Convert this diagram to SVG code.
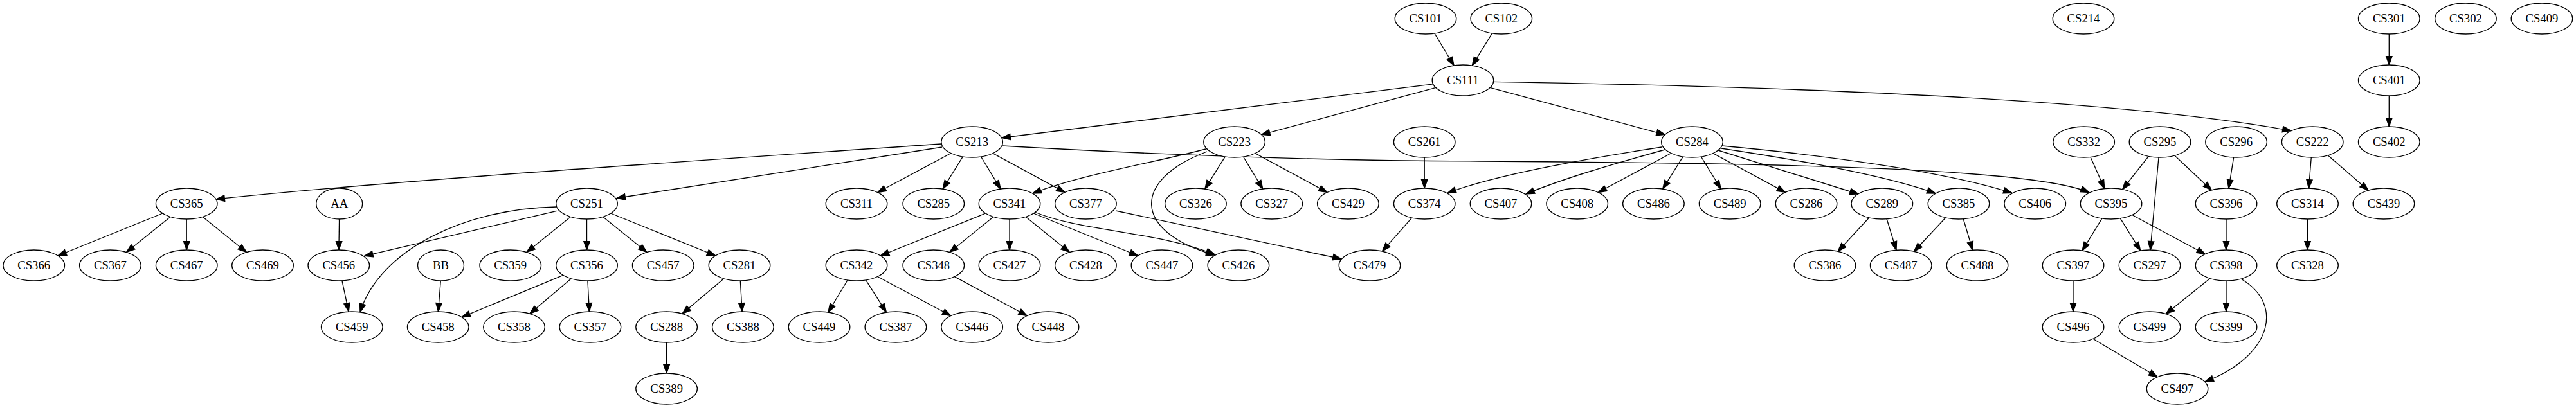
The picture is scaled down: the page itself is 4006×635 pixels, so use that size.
<svg xmlns="http://www.w3.org/2000/svg" width="4006" height="635" viewBox="0 0 4006 635">
<defs>
<marker id="arr" markerUnits="userSpaceOnUse" markerWidth="16" markerHeight="12" refX="13.3" refY="4.67" orient="auto" overflow="visible">
<path d="M0,0 L13.3,4.67 L0,9.33 Z" fill="#000" stroke="#000" stroke-width="1.33"/>
</marker>
<style>
.n ellipse{fill:#fff;stroke:#000;stroke-width:1.33}
.n text{font-family:"Liberation Serif","Times New Roman",serif;font-size:18.67px;text-anchor:middle;fill:#000}
#edges path{fill:none;stroke:#000;stroke-width:1.33;marker-end:url(#arr)}
</style>
</defs>
<rect width="4006" height="635" fill="#fff"/>
<g id="edges">
<path d="M2230.9,52 L2261.1,102"/>
<path d="M2320.5,51.9 L2289.3,102.1"/>
<path d="M2228.6,130.8 L1558,214.5"/>
<path d="M2232.9,136.4 L1961.7,209.6"/>
<path d="M2317.2,136.4 L2589.3,209.6"/>
<path d="M2322.7,127.3 C2800,135 3300,155 3563,203.5"/>
<path d="M1464,224 C1000,256 600,282 336,310"/>
<path d="M1465,229 L959,308.5"/>
<path d="M1478.9,238.5 L1364.7,299.5"/>
<path d="M1497.3,243.9 L1466.1,294.1"/>
<path d="M1525.6,244 L1556,294"/>
<path d="M1544,238.6 L1656,299.4"/>
<path d="M1559,227 C1800,241 2050,250 2300,251 C2700,254 3150,258 3249,299.5"/>
<path d="M1875,232 C1800,252 1680,272 1606,301"/>
<path d="M1877,236 C1760,280 1760,360 1889,397"/>
<path d="M1905.2,243.9 L1873.8,294.1"/>
<path d="M1933.5,244 L1963.8,294"/>
<path d="M1952,238.6 L2064,299.4"/>
<path d="M253,332 L89.9,398"/>
<path d="M265,337.4 L196.6,392.6"/>
<path d="M290.2,341 L290.2,389"/>
<path d="M315.3,337.4 L383.4,392.6"/>
<path d="M527.6,341 L526.9,389"/>
<path d="M865.7,328.3 L566.7,398.3"/>
<path d="M865,322 C720,325 590,390 560,486"/>
<path d="M887.3,337.4 L819,392.6"/>
<path d="M912.5,341 L912.5,389"/>
<path d="M937.7,337.4 L1006,392.6"/>
<path d="M949.7,332 L1112.8,398"/>
<path d="M531.9,436.9 L542.2,485.1"/>
<path d="M685.3,437 L681.5,485"/>
<path d="M875.7,428.3 L718.1,493.7"/>
<path d="M888.2,433.7 L823.8,488.3"/>
<path d="M913.9,437 L916.5,485"/>
<path d="M1125.6,433.7 L1061,488.3"/>
<path d="M1151.3,437 L1154.1,485"/>
<path d="M1036.6,533 L1036.6,581"/>
<path d="M1532.7,332 L1369.3,398"/>
<path d="M1544.9,337.4 L1476.9,392.6"/>
<path d="M1570,341 L1570,389"/>
<path d="M1595.2,337.4 L1663.2,392.6"/>
<path d="M1607.2,332 L1769.8,398"/>
<path d="M1609,330 C1680,360 1800,360 1889,396"/>
<path d="M1318.1,436 L1287.9,486"/>
<path d="M1346.5,435.9 L1378.4,486.1"/>
<path d="M1364.7,430.5 L1478.9,491.5"/>
<path d="M1484.4,430.6 L1597.4,491.5"/>
<path d="M1735,328 L2086,403"/>
<path d="M2215.2,245 L2215.2,293"/>
<path d="M2195.7,338.9 L2149.5,391.1"/>
<path d="M2584,229 C2480,245 2330,270 2251,300.5"/>
<path d="M2589,233 C2510,255 2430,278 2373,302"/>
<path d="M2598.9,238.5 L2485.3,299.5"/>
<path d="M2617.2,243.9 L2585.7,294.1"/>
<path d="M2645.5,244 L2676.2,294"/>
<path d="M2664,238.6 L2776.5,299.4"/>
<path d="M2672,234 L2890,302"/>
<path d="M2677,231 C2790,248 2930,272 3010,301"/>
<path d="M2678,227 C2820,240 3020,265 3129,300.5"/>
<path d="M2906.7,338.8 L2858.1,391.2"/>
<path d="M2934.1,340.7 L2949,389.3"/>
<path d="M3025.7,338.8 L2976.6,391.2"/>
<path d="M3053.2,340.7 L3067.8,389.3"/>
<path d="M3251,244.4 L3272.7,293.6"/>
<path d="M3341.3,243.3 L3300.7,294.7"/>
<path d="M3357,245 L3344,389"/>
<path d="M3381.7,242.1 L3439.3,295.9"/>
<path d="M3473.7,244.9 L3465.9,293.1"/>
<path d="M3594.3,245 L3590.4,293"/>
<path d="M3620.2,241.8 L3683,296.2"/>
<path d="M3715.3,53 L3715.3,101"/>
<path d="M3715.3,149 L3715.3,197"/>
<path d="M3268.9,339.9 L3238.1,390.1"/>
<path d="M3297.3,339.9 L3328.7,390.1"/>
<path d="M3315.7,334.5 L3429.4,395.5"/>
<path d="M3462,341 L3462,389"/>
<path d="M3588.5,341 L3588.5,389"/>
<path d="M3224,437 L3224,485"/>
<path d="M3254.9,527.3 L3355.1,586.7"/>
<path d="M3436.7,433.4 L3368.3,488.6"/>
<path d="M3462,437 L3462,485"/>
<path d="M3485,434 C3555,475 3530,556 3429,594"/>
</g>
<g id="CS101" class="n"><ellipse cx="2217" cy="29" rx="47.8" ry="24"/><text x="2217" y="34.6">CS101</text></g>
<g id="CS102" class="n"><ellipse cx="2334.8" cy="29" rx="47.8" ry="24"/><text x="2334.8" y="34.6">CS102</text></g>
<g id="CS214" class="n"><ellipse cx="3240" cy="29" rx="47.8" ry="24"/><text x="3240" y="34.6">CS214</text></g>
<g id="CS301" class="n"><ellipse cx="3715.3" cy="29" rx="47.8" ry="24"/><text x="3715.3" y="34.6">CS301</text></g>
<g id="CS302" class="n"><ellipse cx="3834.4" cy="29" rx="47.8" ry="24"/><text x="3834.4" y="34.6">CS302</text></g>
<g id="CS409" class="n"><ellipse cx="3953" cy="29" rx="47.8" ry="24"/><text x="3953" y="34.6">CS409</text></g>
<g id="CS111" class="n"><ellipse cx="2275" cy="125" rx="47.8" ry="24"/><text x="2275" y="130.6">CS111</text></g>
<g id="CS401" class="n"><ellipse cx="3715.3" cy="125" rx="47.8" ry="24"/><text x="3715.3" y="130.6">CS401</text></g>
<g id="CS213" class="n"><ellipse cx="1511.6" cy="221" rx="47.8" ry="24"/><text x="1511.6" y="226.6">CS213</text></g>
<g id="CS223" class="n"><ellipse cx="1919.6" cy="221" rx="47.8" ry="24"/><text x="1919.6" y="226.6">CS223</text></g>
<g id="CS261" class="n"><ellipse cx="2215.2" cy="221" rx="47.8" ry="24"/><text x="2215.2" y="226.6">CS261</text></g>
<g id="CS284" class="n"><ellipse cx="2631.5" cy="221" rx="47.8" ry="24"/><text x="2631.5" y="226.6">CS284</text></g>
<g id="CS332" class="n"><ellipse cx="3240.6" cy="221" rx="47.8" ry="24"/><text x="3240.6" y="226.6">CS332</text></g>
<g id="CS295" class="n"><ellipse cx="3359" cy="221" rx="47.8" ry="24"/><text x="3359" y="226.6">CS295</text></g>
<g id="CS296" class="n"><ellipse cx="3477.6" cy="221" rx="47.8" ry="24"/><text x="3477.6" y="226.6">CS296</text></g>
<g id="CS222" class="n"><ellipse cx="3596.2" cy="221" rx="47.8" ry="24"/><text x="3596.2" y="226.6">CS222</text></g>
<g id="CS402" class="n"><ellipse cx="3715.3" cy="221" rx="47.8" ry="24"/><text x="3715.3" y="226.6">CS402</text></g>
<g id="CS365" class="n"><ellipse cx="290.2" cy="317" rx="47.8" ry="24"/><text x="290.2" y="322.6">CS365</text></g>
<g id="AA" class="n"><ellipse cx="527.7" cy="317" rx="36" ry="24"/><text x="527.7" y="322.6">AA</text></g>
<g id="CS251" class="n"><ellipse cx="912.5" cy="317" rx="47.8" ry="24"/><text x="912.5" y="322.6">CS251</text></g>
<g id="CS311" class="n"><ellipse cx="1332" cy="317" rx="47.8" ry="24"/><text x="1332" y="322.6">CS311</text></g>
<g id="CS285" class="n"><ellipse cx="1451.8" cy="317" rx="47.8" ry="24"/><text x="1451.8" y="322.6">CS285</text></g>
<g id="CS341" class="n"><ellipse cx="1570" cy="317" rx="47.8" ry="24"/><text x="1570" y="322.6">CS341</text></g>
<g id="CS377" class="n"><ellipse cx="1688.4" cy="317" rx="47.8" ry="24"/><text x="1688.4" y="322.6">CS377</text></g>
<g id="CS326" class="n"><ellipse cx="1859.4" cy="317" rx="47.8" ry="24"/><text x="1859.4" y="322.6">CS326</text></g>
<g id="CS327" class="n"><ellipse cx="1977.7" cy="317" rx="47.8" ry="24"/><text x="1977.7" y="322.6">CS327</text></g>
<g id="CS429" class="n"><ellipse cx="2096.4" cy="317" rx="47.8" ry="24"/><text x="2096.4" y="322.6">CS429</text></g>
<g id="CS374" class="n"><ellipse cx="2215.2" cy="317" rx="47.8" ry="24"/><text x="2215.2" y="322.6">CS374</text></g>
<g id="CS407" class="n"><ellipse cx="2334" cy="317" rx="47.8" ry="24"/><text x="2334" y="322.6">CS407</text></g>
<g id="CS408" class="n"><ellipse cx="2452.7" cy="317" rx="47.8" ry="24"/><text x="2452.7" y="322.6">CS408</text></g>
<g id="CS486" class="n"><ellipse cx="2571.4" cy="317" rx="47.8" ry="24"/><text x="2571.4" y="322.6">CS486</text></g>
<g id="CS489" class="n"><ellipse cx="2690.2" cy="317" rx="47.8" ry="24"/><text x="2690.2" y="322.6">CS489</text></g>
<g id="CS286" class="n"><ellipse cx="2809" cy="317" rx="47.8" ry="24"/><text x="2809" y="322.6">CS286</text></g>
<g id="CS289" class="n"><ellipse cx="2926.8" cy="317" rx="47.8" ry="24"/><text x="2926.8" y="322.6">CS289</text></g>
<g id="CS385" class="n"><ellipse cx="3046" cy="317" rx="47.8" ry="24"/><text x="3046" y="322.6">CS385</text></g>
<g id="CS406" class="n"><ellipse cx="3164.7" cy="317" rx="47.8" ry="24"/><text x="3164.7" y="322.6">CS406</text></g>
<g id="CS395" class="n"><ellipse cx="3283" cy="317" rx="47.8" ry="24"/><text x="3283" y="322.6">CS395</text></g>
<g id="CS396" class="n"><ellipse cx="3462" cy="317" rx="47.8" ry="24"/><text x="3462" y="322.6">CS396</text></g>
<g id="CS314" class="n"><ellipse cx="3588.5" cy="317" rx="47.8" ry="24"/><text x="3588.5" y="322.6">CS314</text></g>
<g id="CS439" class="n"><ellipse cx="3707" cy="317" rx="47.8" ry="24"/><text x="3707" y="322.6">CS439</text></g>
<g id="CS366" class="n"><ellipse cx="52.7" cy="413" rx="47.8" ry="24"/><text x="52.7" y="418.6">CS366</text></g>
<g id="CS367" class="n"><ellipse cx="171.4" cy="413" rx="47.8" ry="24"/><text x="171.4" y="418.6">CS367</text></g>
<g id="CS467" class="n"><ellipse cx="290.2" cy="413" rx="47.8" ry="24"/><text x="290.2" y="418.6">CS467</text></g>
<g id="CS469" class="n"><ellipse cx="408.5" cy="413" rx="47.8" ry="24"/><text x="408.5" y="418.6">CS469</text></g>
<g id="CS456" class="n"><ellipse cx="526.8" cy="413" rx="47.8" ry="24"/><text x="526.8" y="418.6">CS456</text></g>
<g id="BB" class="n"><ellipse cx="685.5" cy="413" rx="36" ry="24"/><text x="685.5" y="418.6">BB</text></g>
<g id="CS359" class="n"><ellipse cx="793.75" cy="413" rx="47.8" ry="24"/><text x="793.75" y="418.6">CS359</text></g>
<g id="CS356" class="n"><ellipse cx="912.5" cy="413" rx="47.8" ry="24"/><text x="912.5" y="418.6">CS356</text></g>
<g id="CS457" class="n"><ellipse cx="1031.25" cy="413" rx="47.8" ry="24"/><text x="1031.25" y="418.6">CS457</text></g>
<g id="CS281" class="n"><ellipse cx="1150" cy="413" rx="47.8" ry="24"/><text x="1150" y="418.6">CS281</text></g>
<g id="CS342" class="n"><ellipse cx="1332" cy="413" rx="47.8" ry="24"/><text x="1332" y="418.6">CS342</text></g>
<g id="CS348" class="n"><ellipse cx="1451.8" cy="413" rx="47.8" ry="24"/><text x="1451.8" y="418.6">CS348</text></g>
<g id="CS427" class="n"><ellipse cx="1570" cy="413" rx="47.8" ry="24"/><text x="1570" y="418.6">CS427</text></g>
<g id="CS428" class="n"><ellipse cx="1688.4" cy="413" rx="47.8" ry="24"/><text x="1688.4" y="418.6">CS428</text></g>
<g id="CS447" class="n"><ellipse cx="1807" cy="413" rx="47.8" ry="24"/><text x="1807" y="418.6">CS447</text></g>
<g id="CS426" class="n"><ellipse cx="1925.9" cy="413" rx="47.8" ry="24"/><text x="1925.9" y="418.6">CS426</text></g>
<g id="CS479" class="n"><ellipse cx="2130" cy="413" rx="47.8" ry="24"/><text x="2130" y="418.6">CS479</text></g>
<g id="CS386" class="n"><ellipse cx="2838" cy="413" rx="47.8" ry="24"/><text x="2838" y="418.6">CS386</text></g>
<g id="CS487" class="n"><ellipse cx="2956.25" cy="413" rx="47.8" ry="24"/><text x="2956.25" y="418.6">CS487</text></g>
<g id="CS488" class="n"><ellipse cx="3075" cy="413" rx="47.8" ry="24"/><text x="3075" y="418.6">CS488</text></g>
<g id="CS397" class="n"><ellipse cx="3224" cy="413" rx="47.8" ry="24"/><text x="3224" y="418.6">CS397</text></g>
<g id="CS297" class="n"><ellipse cx="3343" cy="413" rx="47.8" ry="24"/><text x="3343" y="418.6">CS297</text></g>
<g id="CS398" class="n"><ellipse cx="3462" cy="413" rx="47.8" ry="24"/><text x="3462" y="418.6">CS398</text></g>
<g id="CS328" class="n"><ellipse cx="3588.5" cy="413" rx="47.8" ry="24"/><text x="3588.5" y="418.6">CS328</text></g>
<g id="CS459" class="n"><ellipse cx="547.3" cy="509" rx="47.8" ry="24"/><text x="547.3" y="514.6">CS459</text></g>
<g id="CS458" class="n"><ellipse cx="681.25" cy="509" rx="47.8" ry="24"/><text x="681.25" y="514.6">CS458</text></g>
<g id="CS358" class="n"><ellipse cx="799.5" cy="509" rx="47.8" ry="24"/><text x="799.5" y="514.6">CS358</text></g>
<g id="CS357" class="n"><ellipse cx="917.9" cy="509" rx="47.8" ry="24"/><text x="917.9" y="514.6">CS357</text></g>
<g id="CS288" class="n"><ellipse cx="1036.6" cy="509" rx="47.8" ry="24"/><text x="1036.6" y="514.6">CS288</text></g>
<g id="CS388" class="n"><ellipse cx="1155.4" cy="509" rx="47.8" ry="24"/><text x="1155.4" y="514.6">CS388</text></g>
<g id="CS449" class="n"><ellipse cx="1274" cy="509" rx="47.8" ry="24"/><text x="1274" y="514.6">CS449</text></g>
<g id="CS387" class="n"><ellipse cx="1392.9" cy="509" rx="47.8" ry="24"/><text x="1392.9" y="514.6">CS387</text></g>
<g id="CS446" class="n"><ellipse cx="1511.6" cy="509" rx="47.8" ry="24"/><text x="1511.6" y="514.6">CS446</text></g>
<g id="CS448" class="n"><ellipse cx="1630" cy="509" rx="47.8" ry="24"/><text x="1630" y="514.6">CS448</text></g>
<g id="CS496" class="n"><ellipse cx="3224" cy="509" rx="47.8" ry="24"/><text x="3224" y="514.6">CS496</text></g>
<g id="CS499" class="n"><ellipse cx="3343" cy="509" rx="47.8" ry="24"/><text x="3343" y="514.6">CS499</text></g>
<g id="CS399" class="n"><ellipse cx="3462" cy="509" rx="47.8" ry="24"/><text x="3462" y="514.6">CS399</text></g>
<g id="CS389" class="n"><ellipse cx="1036.6" cy="605" rx="47.8" ry="24"/><text x="1036.6" y="610.6">CS389</text></g>
<g id="CS497" class="n"><ellipse cx="3386" cy="605" rx="47.8" ry="24"/><text x="3386" y="610.6">CS497</text></g>
</svg>
